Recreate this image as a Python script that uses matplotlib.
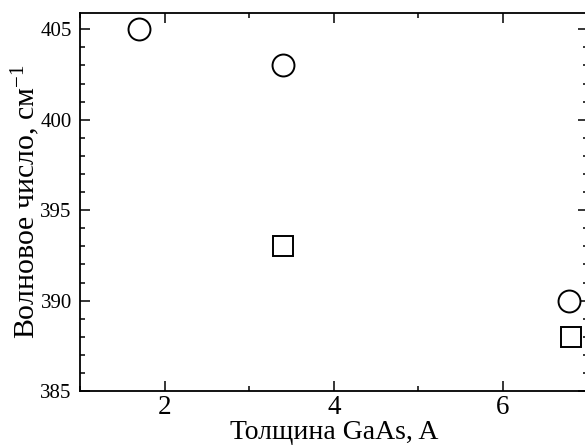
import numpy as np
import matplotlib
matplotlib.use("Agg")
import matplotlib.pyplot as plt
from matplotlib.ticker import MultipleLocator

# GaAs layer thickness vs. phonon wavenumber
circ_x = [1.7, 3.4, 6.78]
circ_y = [405, 403, 390]
sq_x = [3.4, 6.8]
sq_y = [393, 388]

plt.rcParams['font.family'] = ['Liberation Serif', 'DejaVu Serif']
plt.rcParams['mathtext.fontset'] = 'custom'
plt.rcParams['mathtext.rm'] = 'Liberation Serif'
plt.rcParams['mathtext.it'] = 'Liberation Serif:italic'

fig = plt.figure(figsize=(5.85, 4.45), dpi=100)
ax = fig.add_axes([0.1368, 0.1213, 0.8675, 0.8494])

ax.plot(circ_x, circ_y, 'o', ms=15.8, mfc='white', mec='black', mew=1.4, clip_on=False)
ax.plot(sq_x, sq_y, 's', ms=13.7, mfc='white', mec='black', mew=1.4, clip_on=False)

ax.set_xlim(1, 7)
ax.set_ylim(385, 405.9)
ax.xaxis.set_major_locator(MultipleLocator(2))
ax.xaxis.set_minor_locator(MultipleLocator(1))
ax.yaxis.set_major_locator(MultipleLocator(5))
ax.yaxis.set_minor_locator(MultipleLocator(1))

ax.tick_params(which='both', direction='in', top=True, right=True, width=1.1)
ax.tick_params(which='major', length=7)
ax.tick_params(which='minor', length=3.5)
ax.tick_params(axis='x', labelsize=19.5, pad=3)
ax.tick_params(axis='y', labelsize=15, pad=6)
for s in ax.spines.values():
    s.set_linewidth(1.3)

ax.set_xlabel('Толщина GaAs, A', fontsize=20, labelpad=0)
ax.set_ylabel('Волновое число, см$^{\\mathrm{-1}}$', fontsize=21.5, labelpad=-1)

fig.savefig('out.png', dpi=100)
